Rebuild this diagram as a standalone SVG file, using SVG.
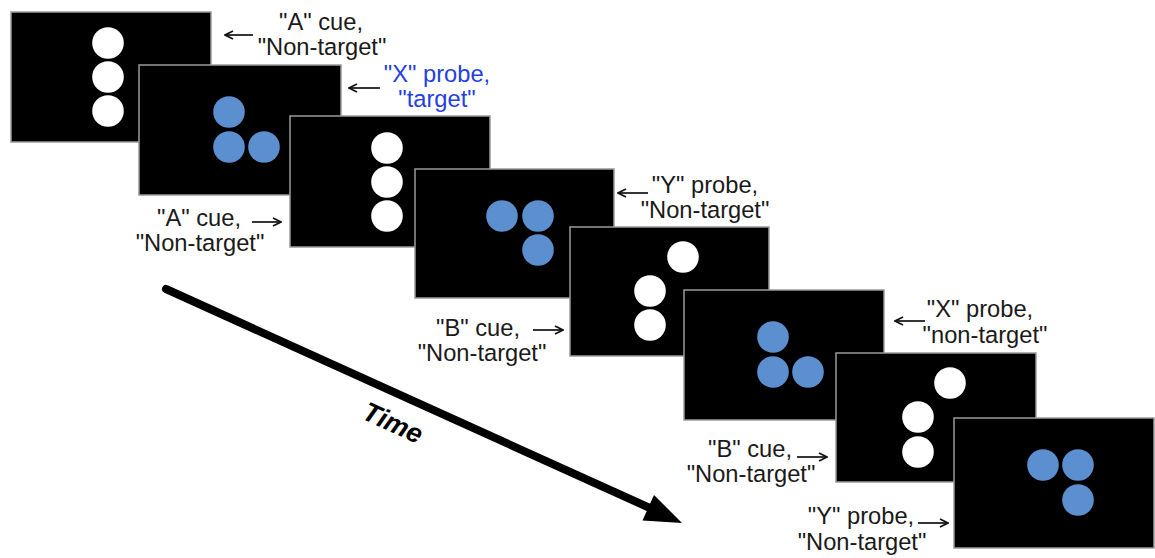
<svg xmlns="http://www.w3.org/2000/svg" width="1155" height="558" viewBox="0 0 1155 558">
<defs>
<style>
.scr{fill:#000;stroke:#9a9a9a;stroke-width:1.5}
.w{fill:#fff}
.b{fill:#5b8fcf}
.lbl{font-family:"Liberation Sans",Arial,sans-serif;font-size:23.7px;fill:#1a1a1a;text-anchor:middle}
.blue{fill:#2540e0}
.ar{stroke:#111;stroke-width:1.7;fill:none;marker-end:url(#oh)}
</style>
<marker id="oh" viewBox="0 0 10 10" refX="9" refY="5" markerWidth="10" markerHeight="10" markerUnits="userSpaceOnUse" orient="auto">
<path d="M1,1 L9,5 L1,9" fill="none" stroke="#111" stroke-width="1.7"/>
</marker>
</defs>
<rect width="1155" height="558" fill="#fff"/>

<g id="screen1"><rect class="scr" x="11" y="12" width="200" height="130"/>
<circle class="w" cx="108" cy="43" r="15.8"/><circle class="w" cx="108" cy="77" r="15.8"/><circle class="w" cx="108" cy="111" r="15.8"/></g>
<g id="screen2"><rect class="scr" x="139" y="65" width="202" height="130"/>
<circle class="b" cx="229" cy="112" r="15.8"/><circle class="b" cx="229" cy="147" r="15.8"/><circle class="b" cx="264" cy="147" r="15.8"/></g>
<g id="screen3"><rect class="scr" x="290" y="116" width="200" height="131"/>
<circle class="w" cx="387" cy="148" r="15.8"/><circle class="w" cx="387" cy="182" r="15.8"/><circle class="w" cx="387" cy="216" r="15.8"/></g>
<g id="screen4"><rect class="scr" x="415" y="169" width="199" height="129"/>
<circle class="b" cx="502" cy="216" r="15.8"/><circle class="b" cx="538" cy="216" r="15.8"/><circle class="b" cx="538" cy="250" r="15.8"/></g>
<g id="screen5"><rect class="scr" x="570" y="227" width="199" height="129"/>
<circle class="w" cx="683" cy="257" r="15.8"/><circle class="w" cx="650" cy="291" r="15.8"/><circle class="w" cx="650" cy="325" r="15.8"/></g>
<g id="screen6"><rect class="scr" x="684" y="290" width="200" height="130"/>
<circle class="b" cx="773" cy="337" r="15.8"/><circle class="b" cx="773" cy="372" r="15.8"/><circle class="b" cx="808" cy="372" r="15.8"/></g>
<g id="screen7"><rect class="scr" x="836" y="353" width="200" height="129"/>
<circle class="w" cx="950" cy="383" r="15.8"/><circle class="w" cx="918" cy="417" r="15.8"/><circle class="w" cx="918" cy="452" r="15.8"/></g>
<g id="screen8"><rect class="scr" x="954" y="418" width="200" height="130"/>
<circle class="b" cx="1043" cy="465" r="15.8"/><circle class="b" cx="1078" cy="465" r="15.8"/><circle class="b" cx="1078" cy="500" r="15.8"/></g>

<g id="label1"><text class="lbl" x="321" y="30">"A" cue,</text><text class="lbl" x="322" y="55">"Non-target"</text></g>
<g id="label2"><text class="lbl blue" x="437" y="82">"X" probe,</text><text class="lbl blue" x="437" y="107">"target"</text></g>
<g id="label3"><text class="lbl" x="199" y="226">"A" cue,</text><text class="lbl" x="200" y="251">"Non-target"</text></g>
<g id="label4"><text class="lbl" x="705" y="193">"Y" probe,</text><text class="lbl" x="705" y="218">"Non-target"</text></g>
<g id="label5"><text class="lbl" x="478" y="336">"B" cue,</text><text class="lbl" x="482" y="361">"Non-target"</text></g>
<g id="label6"><text class="lbl" x="980" y="317">"X" probe,</text><text class="lbl" x="985" y="343">"non-target"</text></g>
<g id="label7"><text class="lbl" x="750" y="457">"B" cue,</text><text class="lbl" x="751" y="482">"Non-target"</text></g>
<g id="label8"><text class="lbl" x="861" y="524">"Y" probe,</text><text class="lbl" x="862" y="550">"Non-target"</text></g>

<g id="connectors">
<line class="ar" x1="253" y1="35" x2="225" y2="35"/>
<line class="ar" x1="380" y1="88" x2="349" y2="88"/>
<line class="ar" x1="252" y1="222" x2="281" y2="222"/>
<line class="ar" x1="648" y1="193" x2="618" y2="193"/>
<line class="ar" x1="533" y1="330" x2="563" y2="330"/>
<line class="ar" x1="925" y1="321" x2="895" y2="321"/>
<line class="ar" x1="797" y1="457" x2="827" y2="457"/>
<line class="ar" x1="918" y1="523" x2="948" y2="523"/>
</g>

<g id="time-arrow">
<line x1="166" y1="289" x2="652" y2="509" stroke="#000" stroke-width="8" stroke-linecap="round"/>
<polygon points="682,523 654,495 642.5,520.5" fill="#000"/>
<text transform="translate(393,423) rotate(24.4)" x="0" y="9" style="font-family:'Liberation Sans',Arial,sans-serif;font-size:27px;font-weight:bold;font-style:italic;text-anchor:middle" fill="#000">Time</text>
</g>
</svg>
